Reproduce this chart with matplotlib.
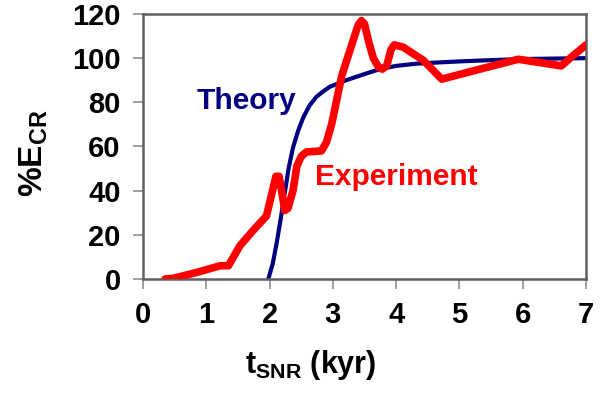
import matplotlib
matplotlib.use("Agg")
import matplotlib.pyplot as plt

matplotlib.rcParams["font.family"] = ["Liberation Sans", "DejaVu Sans"]
matplotlib.rcParams["font.weight"] = "bold"
matplotlib.rcParams["mathtext.fontset"] = "custom"
matplotlib.rcParams["mathtext.rm"] = "Liberation Sans:bold"
matplotlib.rcParams["mathtext.bf"] = "Liberation Sans:bold"
matplotlib.rcParams["mathtext.it"] = "Liberation Sans:bold"

# experiment curve (t in kyr, %E_CR)
exp_t = [0.35, 0.48, 0.85, 1.22, 1.35, 1.45, 1.53, 1.74, 1.95, 2.03, 2.10,
         2.15, 2.19, 2.24, 2.29, 2.37, 2.43, 2.50, 2.58, 2.82, 2.90, 2.98,
         3.14, 3.32, 3.40, 3.45, 3.50, 3.57, 3.64, 3.72, 3.78, 3.85, 3.92,
         3.97, 4.11, 4.43, 4.72, 5.32, 5.93, 6.61, 6.79, 7.00]
exp_e = [0, 0.3, 3, 6, 6, 11, 15, 22, 28.5, 38, 46.5,
         46.5, 40, 31, 32, 40, 51, 55.5, 57.5, 58, 62, 70,
         92, 108, 115, 117, 115.5, 107, 100, 96, 95, 96.5, 104,
         106, 105, 99, 90.5, 95, 99.5, 96.5, 101, 106]

# theory curve
th_t = [1.98, 2.05, 2.11, 2.18, 2.24, 2.30, 2.37, 2.45, 2.53, 2.63, 2.74,
        2.85, 2.95, 3.21, 3.50, 3.74, 4.00, 4.32, 4.70, 5.06, 5.50, 6.00, 6.50, 7.00]
th_e = [0, 7, 16, 28, 39, 50, 59.5, 67, 73, 78.5, 82.5,
        85, 87, 90, 92.8, 95, 96.5, 97.5, 98.1, 98.6, 99.1, 99.6, 99.8, 100]

x_ticks = [0, 1, 2, 3, 4, 5, 6, 7]
y_ticks = [0, 20, 40, 60, 80, 100, 120]

fig = plt.figure(figsize=(6.12, 3.95), dpi=100)
ax = fig.add_axes([0.2337, 0.2937, 0.7238, 0.6709])

ax.plot(th_t, th_e, color="#000080", lw=3.0, solid_joinstyle="round", zorder=2)
ax.plot(exp_t, exp_e, color="#ff0000", lw=5.5, solid_joinstyle="round",
        solid_capstyle="round", zorder=3)

ax.text(0.85, 80.5, "Theory", color="#000080", fontsize=21.5, fontweight="bold",
        va="center", ha="left")
ax.text(2.72, 46, "Experiment", color="#ff0000", fontsize=21.5, fontweight="bold",
        va="center", ha="left")

ax.set_xlim(0, 7)
ax.set_ylim(0, 120)
ax.set_xticks(x_ticks)
ax.set_yticks(y_ticks)
ax.tick_params(direction="out", length=7, width=1.2, color="#909090",
               labelsize=21, pad=9)
for lab in ax.get_xticklabels() + ax.get_yticklabels():
    lab.set_fontweight("bold")
for sp in ax.spines.values():
    sp.set_color("#606060")
    sp.set_linewidth(1.8)

ax.set_xlabel(r"$\mathbf{t_{SNR}}$ (kyr)", fontsize=22, fontweight="bold")
ax.set_ylabel(r"%$\mathbf{E_{CR}}$", fontsize=24, fontweight="bold")
ax.xaxis.set_label_coords(0.379, -0.325)
ax.yaxis.set_label_coords(-0.246, 0.475)
ax.xaxis.label.set_va("center")
ax.yaxis.label.set_va("center")

fig.savefig("out.png", dpi=100)
